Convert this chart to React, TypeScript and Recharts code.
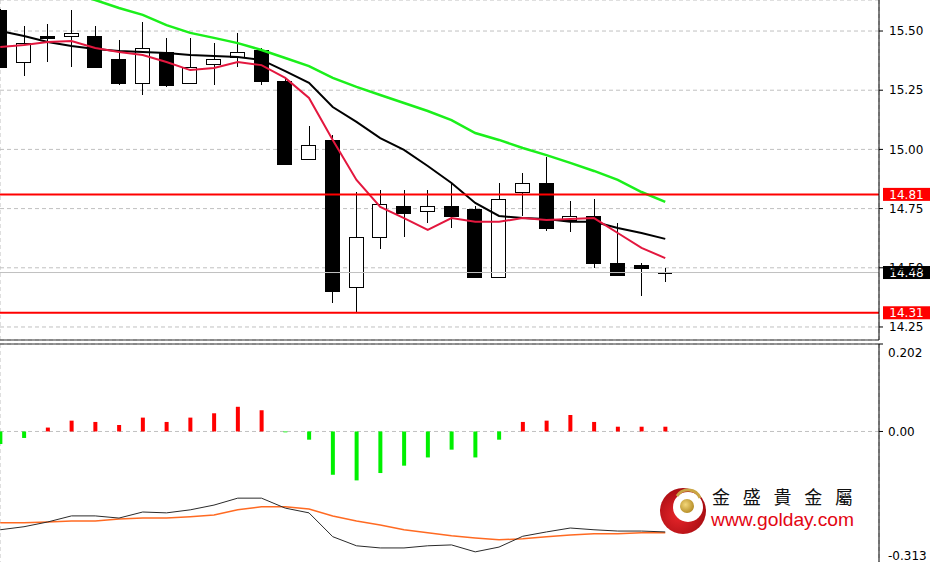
import React from "react";
import {
    ComposedChart,
    Bar,
    Line,
    XAxis,
    YAxis,
    CartesianGrid,
    ReferenceLine,
    Cell,
} from "recharts";

const FONT = "'DejaVu Sans', Verdana, sans-serif";

// bar index, one per candle
const bars = [
    0, 1, 2, 3, 4, 5, 6, 7, 8, 9, 10, 11, 12, 13, 14, 15, 16, 17, 18, 19, 20, 21, 22, 23, 24, 25, 26,
    27, 28,
];

const opens = [
    15.59, 15.37, 15.48, 15.48, 15.48, 15.38, 15.28, 15.41, 15.28, 15.36, 15.39, 15.42, 15.29, 14.96,
    15.04, 14.42, 14.63, 14.76, 14.74, 14.76, 14.75, 14.46, 14.82, 14.86, 14.7, 14.72, 14.52, 14.51,
    14.48,
];
const highs = [
    15.595, 15.52, 15.53, 15.59, 15.52, 15.46, 15.54, 15.47, 15.47, 15.45, 15.49, 15.43, 15.3, 15.1,
    15.06, 14.82, 14.83, 14.83, 14.83, 14.86, 14.76, 14.86, 14.9, 14.97, 14.78, 14.79, 14.69, 14.52,
    14.5,
];
const lows = [
    15.345, 15.31, 15.37, 15.35, 15.345, 15.27, 15.23, 15.265, 15.275, 15.27, 15.35, 15.27, 14.935,
    14.955, 14.35, 14.31, 14.58, 14.63, 14.69, 14.67, 14.455, 14.455, 14.72, 14.655, 14.65, 14.5,
    14.47, 14.38, 14.44,
];
const closes = [
    15.35, 15.45, 15.47, 15.49, 15.35, 15.28, 15.43, 15.27, 15.35, 15.38, 15.41, 15.29, 14.94, 15.02,
    14.4, 14.63, 14.77, 14.73, 14.76, 14.72, 14.46, 14.79, 14.86, 14.67, 14.72, 14.52, 14.47, 14.5,
    14.48,
];

// moving averages
const maFast = [
    15.432, 15.441, 15.454, 15.458, 15.428, 15.411, 15.399, 15.369, 15.335, 15.344, 15.369, 15.356,
    15.302, 15.217, 15.04, 14.871, 14.757, 14.71, 14.66, 14.71, 14.694, 14.694, 14.71, 14.702, 14.706,
    14.71, 14.647, 14.584, 14.541,
];
const maMid = [
    15.5, 15.479, 15.454, 15.437, 15.424, 15.416, 15.411, 15.407, 15.399, 15.395, 15.39, 15.378,
    15.331, 15.281, 15.179, 15.116, 15.048, 14.998, 14.93, 14.858, 14.774, 14.719, 14.71, 14.706,
    14.694, 14.694, 14.668, 14.647, 14.622,
];
const maSlow = [
    15.749, 15.72, 15.69, 15.661, 15.631, 15.597, 15.568, 15.525, 15.492, 15.471, 15.449, 15.42,
    15.386, 15.352, 15.302, 15.264, 15.23, 15.196, 15.162, 15.124, 15.069, 15.04, 15.006, 14.976,
    14.943, 14.909, 14.871, 14.82, 14.778,
];

// lower window
const histogram = [
    -0.029, -0.015, 0.009, 0.025, 0.022, 0.015, 0.032, 0.022, 0.032, 0.042, 0.057, 0.049, -0.002,
    -0.019, -0.1, -0.113, -0.096, -0.079, -0.06, -0.042, -0.06, -0.019, 0.022, 0.025, 0.038, 0.022,
    0.011, 0.011, 0.011,
];
const oscMain = [
    -0.227, -0.22, -0.209, -0.195, -0.195, -0.2, -0.186, -0.188, -0.181, -0.17, -0.154, -0.154,
    -0.177, -0.188, -0.243, -0.264, -0.269, -0.269, -0.264, -0.262, -0.278, -0.267, -0.242, -0.232,
    -0.223, -0.227, -0.23, -0.23, -0.232,
];
const oscSignal = [
    -0.211, -0.211, -0.209, -0.207, -0.207, -0.202, -0.2, -0.2, -0.197, -0.193, -0.181, -0.174,
    -0.174, -0.179, -0.195, -0.207, -0.216, -0.227, -0.234, -0.241, -0.246, -0.25, -0.248, -0.243,
    -0.239, -0.236, -0.236, -0.234, -0.234,
];

const priceTicks = [14.25, 14.5, 14.75, 15.0, 15.25, 15.5];
const oscTicks = [-0.313, 0, 0.202];
const gridTicks = [0, 2, 4, 6, 8, 10, 12, 14, 16, 18, 20, 22, 24, 26, 28, 30, 32, 34, 36];

const supportLevel = 14.31;
const resistLevel = 14.81;
const lastPrice = 14.48;

const rows = bars.map((i, k) => ({
    i,
    open: opens[k],
    high: highs[k],
    low: lows[k],
    close: closes[k],
    range: [lows[k], highs[k]],
    fast: maFast[k],
    mid: maMid[k],
    slow: maSlow[k],
    hist: histogram[k],
    macd: oscMain[k],
    signal: oscSignal[k],
}));

function Candle(props: any) {
    const { x, y, width, height, payload } = props;
    if (x == null || !payload) return null;
    const { open, close, high, low } = payload;
    const span = high - low;
    const toY = (v: number) => (span > 0 ? y + ((high - v) / span) * height : y);
    const cx = Math.round(x + width / 2) + 0.5;
    const up = close >= open;
    const top = Math.round(toY(Math.max(open, close)));
    const bot = Math.round(toY(Math.min(open, close)));
    const bx = Math.round(x) + 0.5;
    const bw = Math.round(width) - 1;
    return (
        <g shapeRendering="crispEdges">
            <line x1={cx} x2={cx} y1={y} y2={y + height} stroke="#000" strokeWidth={1} />
            {bot - top < 1 ? (
                <line x1={bx} x2={bx + bw} y1={top + 0.5} y2={top + 0.5} stroke="#000" strokeWidth={1} />
            ) : (
                <rect
                    x={bx}
                    y={top + 0.5}
                    width={bw}
                    height={bot - top}
                    fill={up ? "#fff" : "#000"}
                    stroke="#000"
                    strokeWidth={1}
                />
            )}
        </g>
    );
}

function levelTag(text: string, fill: string) {
    return (p: any) => {
        const vb = p.viewBox || {};
        const x = vb.x + vb.width + 4;
        const y = vb.y;
        return (
            <g>
                <rect x={x} y={y - 6.5} width={47} height={13} fill={fill} />
                <text
                    x={x + 23.5}
                    y={y + 0.5}
                    textAnchor="middle"
                    dominantBaseline="central"
                    fill="#fff"
                    fontSize={12}
                    fontFamily={FONT}
                >
                    {text}
                </text>
            </g>
        );
    };
}

function OscTick(props: any) {
    const { x, y, payload } = props;
    const v = payload.value;
    const label = v === 0 ? "0.00" : v.toFixed(3);
    // edge labels sit inside the window, like the terminal does
    const dy = v > 0.1 ? 9 : v < -0.1 ? -11 : 0;
    return (
        <text x={x} y={y + dy} dy="0.355em" textAnchor="start" fill="#000" fontSize={12} fontFamily={FONT}>
            {label}
        </text>
    );
}

function Logo() {
    return (
        <svg width={215} height={60} style={{ position: "absolute", left: 655, top: 480 }}>
            <defs>
                <radialGradient id="lg" cx="40%" cy="60%" r="60%">
                    <stop offset="0%" stopColor="#e8252a" />
                    <stop offset="100%" stopColor="#a80d12" />
                </radialGradient>
                <radialGradient id="gb" cx="40%" cy="40%" r="60%">
                    <stop offset="0%" stopColor="#f3d77a" />
                    <stop offset="100%" stopColor="#b8902a" />
                </radialGradient>
            </defs>
            <circle cx={28} cy={31} r={23} fill="url(#lg)" />
            <circle cx={33} cy={27} r={15} fill="#fff" />
            <path d="M 22 16 A 13 13 0 0 1 45 18" stroke="#c9a544" strokeWidth={3} fill="none" />
            <circle cx={32} cy={26} r={7} fill="url(#gb)" />
            <text
                x={57}
                y={24}
                fontSize={18}
                fontFamily="'Noto Sans CJK TC', sans-serif"
                fill="#111"
                textLength={141}
                lengthAdjust="spacing"
            >
                金盛貴金屬
            </text>
            <text
                x={56}
                y={46}
                fontSize={19}
                fontFamily="'Liberation Sans', Arial, sans-serif"
                fill="#e30613"
                textLength={143}
                lengthAdjust="spacingAndGlyphs"
            >
                www.golday.com
            </text>
        </svg>
    );
}

export default function App() {
    return (
        <div
            style={{
                position: "absolute",
                left: 0,
                top: 0,
                width: 933,
                height: 562,
                overflow: "hidden",
                background: "#fff",
            }}
        >
            <div style={{ position: "absolute", left: 0, top: 0 }}>
                <ComposedChart width={933} height={341} data={rows} margin={{ top: 0, right: 0, bottom: 0, left: 0 }}>
                    <CartesianGrid stroke="#c0c0c0" strokeDasharray="4 3" />
                    <XAxis
                        dataKey="i"
                        type="number"
                        domain={[-0.01, 37]}
                        ticks={gridTicks}
                        allowDataOverflow
                        tick={false}
                        tickLine={false}
                        axisLine={{ stroke: "#333" }}
                        height={1}
                    />
                    <YAxis
                        orientation="right"
                        width={54}
                        domain={[14.195, 15.631]}
                        allowDataOverflow
                        ticks={priceTicks}
                        interval={0}
                        tickFormatter={(v: number) => v.toFixed(2)}
                        tick={{ fill: "#000", fontSize: 12, fontFamily: FONT }}
                        tickSize={4}
                        tickMargin={6}
                        tickLine={{ stroke: "#000" }}
                        axisLine={{ stroke: "#000" }}
                    />
                    <Bar dataKey="range" barSize={15} shape={Candle} isAnimationActive={false} />
                    <Line dataKey="slow" stroke="#1bef1b" strokeWidth={2.5} dot={false} activeDot={false} isAnimationActive={false} />
                    <Line dataKey="mid" stroke="#000" strokeWidth={2} dot={false} activeDot={false} isAnimationActive={false} />
                    <Line dataKey="fast" stroke="#e3173e" strokeWidth={2} dot={false} activeDot={false} isAnimationActive={false} />
                    <ReferenceLine y={lastPrice} stroke="#c0c0c0" strokeWidth={1} label={levelTag("14.48", "#000")} />
                    <ReferenceLine y={resistLevel} stroke="#ff0000" strokeWidth={2} label={levelTag("14.81", "#ff0000")} />
                    <ReferenceLine y={supportLevel} stroke="#ff0000" strokeWidth={2} label={levelTag("14.31", "#ff0000")} />
                </ComposedChart>
            </div>
            <div style={{ position: "absolute", left: 0, top: 343 }}>
                <ComposedChart width={933} height={224} data={rows} margin={{ top: 0, right: 0, bottom: 0, left: 0 }}>
                    <CartesianGrid stroke="#c0c0c0" strokeDasharray="4 3" />
                    <XAxis
                        dataKey="i"
                        type="number"
                        orientation="top"
                        domain={[-0.01, 37]}
                        ticks={gridTicks}
                        allowDataOverflow
                        tick={false}
                        tickLine={false}
                        axisLine={{ stroke: "#333" }}
                        height={1}
                    />
                    <YAxis
                        orientation="right"
                        width={54}
                        domain={[-0.313, 0.202]}
                        allowDataOverflow
                        ticks={oscTicks}
                        interval={0}
                        tick={<OscTick />}
                        tickSize={4}
                        tickMargin={5}
                        tickLine={{ stroke: "#000" }}
                        axisLine={{ stroke: "#000" }}
                    />
                    <Bar dataKey="hist" barSize={4} isAnimationActive={false}>
                        {rows.map((r) => (
                            <Cell key={r.i} fill={r.hist >= 0 ? "#ff0000" : "#00f000"} />
                        ))}
                    </Bar>
                    <Line dataKey="signal" stroke="#ff6a22" strokeWidth={1.5} dot={false} activeDot={false} isAnimationActive={false} />
                    <Line dataKey="macd" stroke="#2a2a2a" strokeWidth={1} dot={false} activeDot={false} isAnimationActive={false} />
                </ComposedChart>
            </div>
            <Logo />
        </div>
    );
}
